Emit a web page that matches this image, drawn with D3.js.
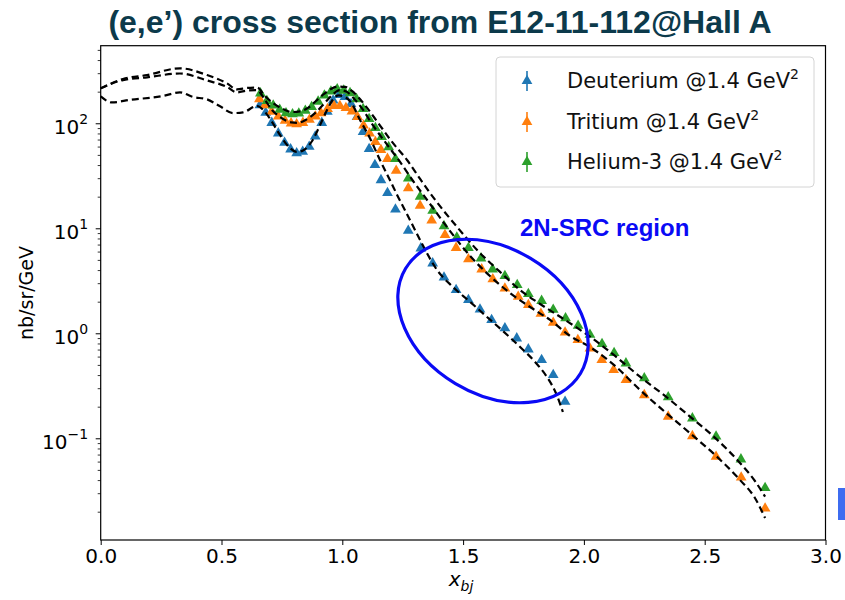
<!DOCTYPE html>
<html>
<head>
<meta charset="utf-8">
<script src="https://cdn.jsdelivr.net/npm/d3@7"></script>
<style>
  html, body { margin: 0; padding: 0; background: #fff; }
  svg { display: block; }
</style>
</head>
<body>
<svg id="chart" width="845" height="600"></svg>
<script>
// Inclusive (e,e') cross sections, E12-11-112 in Hall A, Q^2 = 1.4 GeV^2

// Deuterium data
const deutX = [0.659, 0.683, 0.708, 0.735, 0.761, 0.786, 0.811, 0.836, 0.863, 0.888, 0.915, 0.938,
  0.962, 0.986, 1.011, 1.036, 1.061, 1.086, 1.111, 1.135, 1.160, 1.187, 1.220, 1.273, 1.325, 1.374,
  1.421, 1.471, 1.522, 1.570, 1.618, 1.673, 1.722, 1.770, 1.825, 1.873, 1.922];
const deutY = [149, 126, 101, 80.3, 65.3, 56.5, 51.8, 53.7, 59.8, 74.8, 101, 129,
  165, 186, 178, 153, 115, 82.6, 56.9, 40.1, 28.8, 21.7, 15.1, 9.48, 6.45, 4.64,
  3.41, 2.59, 2.08, 1.69, 1.34, 1.12, 0.896, 0.704, 0.557, 0.401, 0.223];

// Tritium data
const tritX = [0.657, 0.680, 0.708, 0.735, 0.763, 0.788, 0.811, 0.837, 0.864, 0.889, 0.912, 0.939,
  0.966, 0.990, 1.015, 1.040, 1.063, 1.088, 1.113, 1.137, 1.160, 1.187, 1.223, 1.273, 1.322, 1.370,
  1.425, 1.471, 1.522, 1.577, 1.623, 1.673, 1.728, 1.770, 1.822, 1.873, 1.922, 1.975, 2.025, 2.074,
  2.123, 2.174, 2.250, 2.349, 2.449, 2.547, 2.651, 2.750];
const tritY = [170, 149, 129, 116, 106, 100, 98.0, 101, 108, 116, 125, 137,
  146, 146, 140, 130, 115, 95.3, 80.0, 66.4, 55.7, 45.9, 35.4, 24.1, 16.4, 11.9,
  8.63, 6.52, 5.07, 4.07, 3.27, 2.68, 2.23, 1.86, 1.54, 1.26, 1.02, 0.863, 0.719, 0.557,
  0.447, 0.359, 0.258, 0.161, 0.105, 0.0668, 0.0424, 0.0215];

// Helium-3 data
const he3X = [0.661, 0.688, 0.714, 0.741, 0.767, 0.794, 0.820, 0.847, 0.873, 0.900, 0.926, 0.953,
  0.979, 1.006, 1.032, 1.059, 1.086, 1.111, 1.137, 1.163, 1.192, 1.220, 1.273, 1.322, 1.374,
  1.421, 1.474, 1.522, 1.574, 1.622, 1.673, 1.724, 1.770, 1.825, 1.873, 1.924, 1.976, 2.025,
  2.075, 2.125, 2.174, 2.250, 2.349, 2.449, 2.547, 2.650, 2.750];
const he3Y = [193, 163, 148, 135, 125, 122, 124, 132, 143, 161, 184, 201,
  211, 205, 194, 170, 137, 110, 90.2, 74.1, 59.4, 45.7, 29.9, 20.0, 14.7,
  10.5, 8.17, 6.49, 5.18, 4.07, 3.52, 2.89, 2.37, 2.04, 1.68, 1.39, 1.18, 0.970,
  0.791, 0.649, 0.518, 0.373, 0.246, 0.155, 0.104, 0.0631, 0.0337];

// Model calculations (dashed curves)
const modelDX = [0, 0.046, 0.121, 0.258, 0.328, 0.382, 0.440, 0.494, 0.548, 0.589, 0.647, 0.684,
  0.709, 0.742, 0.783, 0.812, 0.841, 0.875, 0.908, 0.941, 0.966, 0.986, 1.011, 1.040, 1.073,
  1.114, 1.156, 1.197, 1.231, 1.280, 1.322, 1.392, 1.458, 1.529, 1.599, 1.665, 1.736, 1.798,
  1.847, 1.884, 1.913];
const modelDY = [180, 158, 167, 182, 197, 178, 169, 145, 125, 127, 146, 125,
  103, 77.4, 58.2, 53.3, 55.7, 67.8, 96.3, 140, 174, 184, 178, 153, 108,
  72.4, 44.7, 28.8, 19.9, 12.0, 7.74, 4.01, 2.76, 1.99, 1.43, 1.05, 0.741, 0.533,
  0.384, 0.270, 0.178];

const modelTX = [0, 0.092, 0.192, 0.328, 0.440, 0.523, 0.564, 0.606, 0.647, 0.680, 0.709, 0.742,
  0.788, 0.817, 0.850, 0.887, 0.924, 0.958, 0.990, 1.019, 1.053, 1.086, 1.123, 1.177, 1.239,
  1.293, 1.351, 1.433, 1.529, 1.611, 1.694, 1.777, 1.860, 1.943, 2.025, 2.129, 2.232, 2.336,
  2.439, 2.543, 2.646, 2.708, 2.750];
const modelTY = [215, 258, 274, 298, 256, 222, 197, 205, 207, 167, 134, 115,
  102, 101, 108, 125, 153, 186, 207, 199, 167, 134, 98.5, 66.4, 42.8,
  28.2, 18.6, 10.3, 5.45, 3.51, 2.42, 1.78, 1.34, 0.942, 0.741, 0.489, 0.289, 0.178,
  0.112, 0.0693, 0.0401, 0.0270, 0.0174];

const modelHX = [0, 0.092, 0.192, 0.328, 0.440, 0.523, 0.564, 0.606, 0.647, 0.680, 0.713, 0.746,
  0.792, 0.825, 0.858, 0.891, 0.924, 0.953, 0.982, 1.011, 1.040, 1.073, 1.106, 1.148, 1.206,
  1.268, 1.322, 1.375, 1.475, 1.558, 1.653, 1.736, 1.819, 1.922, 2.025, 2.129, 2.232, 2.336,
  2.439, 2.543, 2.646, 2.708, 2.750];
const modelHY = [215, 264, 288, 334, 288, 240, 210, 217, 219, 182, 156, 140,
  128, 130, 140, 163, 190, 212, 224, 222, 203, 170, 137, 101, 66.4,
  44.7, 29.5, 19.9, 10.3, 6.21, 3.84, 2.58, 1.90, 1.34, 0.929, 0.608, 0.386, 0.253,
  0.161, 0.101, 0.0582, 0.0392, 0.0278];

// Axis ticks and labels
const xTickValues = [0, 0.5, 1, 1.5, 2, 2.5, 3];
const xTickLabels = ["0.0", "0.5", "1.0", "1.5", "2.0", "2.5", "3.0"];
const yTickExponents = [-1, 0, 1, 2];
const seriesNames = ["Deuterium @1.4 GeV", "Tritium @1.4 GeV", "Helium-3 @1.4 GeV"];

// Styling
const seriesColors = ["#1f77b4", "#ff7f0e", "#2ca02c"];
const FONT = "'DejaVu Sans', sans-serif";
const box = { left: 100.7, right: 825.5, top: 45.7, bottom: 540 };

const svg = d3.select("#chart");

const x = d3.scaleLinear().domain([0, 3]).range([box.left, box.right]);
const y = d3.scaleLog().domain([0.01075, 548]).range([box.bottom, box.top]);

// Title
svg.append("text")
  .attr("x", 440).attr("y", 33)
  .attr("text-anchor", "middle")
  .attr("font-family", "'Liberation Sans', Arial, sans-serif")
  .attr("font-weight", "bold")
  .attr("font-size", 32)
  .attr("fill", "#0c3a4b")
  .text("(e,e\u2019) cross section from E12-11-112@Hall A");

// Axes
const xAxis = d3.axisBottom(x).tickValues(xTickValues)
  .tickFormat((d, i) => xTickLabels[i]).tickSize(5).tickPadding(5);
const gx = svg.append("g").attr("transform", `translate(0,${box.bottom})`).call(xAxis);
gx.select(".domain").remove();
gx.selectAll(".tick line").attr("stroke", "#000").attr("stroke-width", 1);
gx.selectAll(".tick text")
  .attr("font-family", FONT).attr("font-size", 20).attr("fill", "#000")
  .attr("dy", "0.71em").attr("y", 9);

const majorY = yTickExponents.map(e => Math.pow(10, e));
const minorY = [];
for (let e = -2; e <= 2; e++) {
  for (let m = 2; m <= 9; m++) {
    const v = m * Math.pow(10, e);
    if (v >= y.domain()[0] && v <= y.domain()[1]) minorY.push(v);
  }
}
const gyMinor = svg.append("g").attr("transform", `translate(${box.left},0)`)
  .call(d3.axisLeft(y).tickValues(minorY).tickFormat("").tickSize(3));
gyMinor.select(".domain").remove();
gyMinor.selectAll(".tick line").attr("stroke", "#000").attr("stroke-width", 0.8);

const gy = svg.append("g").attr("transform", `translate(${box.left},0)`)
  .call(d3.axisLeft(y).tickValues(majorY).tickFormat("").tickSize(5));
gy.select(".domain").remove();
gy.selectAll(".tick line").attr("stroke", "#000").attr("stroke-width", 1);
gy.selectAll(".tick").each(function(d) {
  const exp = Math.round(Math.log10(d));
  const t = d3.select(this).select("text")
    .attr("x", -12.5).attr("y", 10.5).attr("dy", null)
    .attr("text-anchor", "end")
    .attr("font-family", FONT).attr("fill", "#000");
  t.text(null);
  t.append("tspan").attr("font-size", 20).text("10");
  t.append("tspan").attr("font-size", 14).attr("dy", -10)
    .text(exp < 0 ? "\u2212" + Math.abs(exp) : String(exp));
});

// Frame
svg.append("rect")
  .attr("x", box.left).attr("y", box.top)
  .attr("width", box.right - box.left).attr("height", box.bottom - box.top)
  .attr("fill", "none").attr("stroke", "#000").attr("stroke-width", 1.2);

// Axis labels
svg.append("text")
  .attr("transform", `translate(33,293) rotate(-90)`)
  .attr("text-anchor", "middle")
  .attr("font-family", FONT).attr("font-size", 19).attr("fill", "#000")
  .text("nb/sr/GeV");

const xl = svg.append("text")
  .attr("x", 461).attr("y", 586)
  .attr("text-anchor", "middle")
  .attr("font-family", FONT).attr("font-style", "italic").attr("fill", "#000");
xl.append("tspan").attr("font-size", 20).text("x");
xl.append("tspan").attr("font-size", 14).attr("dy", 5).text("bj");

// Data markers
const tri = d3.symbol(d3.symbolTriangle, 50);
const series = [
  { xs: deutX, ys: deutY, color: seriesColors[0] },
  { xs: tritX, ys: tritY, color: seriesColors[1] },
  { xs: he3X, ys: he3Y, color: seriesColors[2] }
];
series.forEach(s => {
  svg.append("g").selectAll("path")
    .data(s.xs.map((v, i) => [v, s.ys[i]]))
    .join("path")
    .attr("d", tri)
    .attr("transform", d => `translate(${x(d[0])},${y(d[1])})`)
    .attr("fill", s.color);
});

// Model curves
const line = d3.line().x(d => x(d[0])).y(d => y(d[1])).curve(d3.curveMonotoneX);
[[modelDX, modelDY], [modelTX, modelTY], [modelHX, modelHY]].forEach(([xs, ys]) => {
  svg.append("path")
    .attr("d", line(xs.map((v, i) => [v, ys[i]])))
    .attr("fill", "none").attr("stroke", "#000")
    .attr("stroke-width", 2.2).attr("stroke-dasharray", "7,4");
});

// Legend
svg.append("rect")
  .attr("x", 496).attr("y", 57).attr("width", 318).attr("height", 130)
  .attr("rx", 4).attr("fill", "#fff").attr("fill-opacity", 0.8)
  .attr("stroke", "#d4d4d4").attr("stroke-width", 1);
const legendRows = [81, 122, 162];
seriesNames.forEach((name, i) => {
  const cy = legendRows[i];
  svg.append("line")
    .attr("x1", 527).attr("x2", 527).attr("y1", cy - 10).attr("y2", cy + 10)
    .attr("stroke", seriesColors[i]).attr("stroke-width", 1.6);
  svg.append("path").attr("d", tri)
    .attr("transform", `translate(527,${cy})`).attr("fill", seriesColors[i]);
  const t = svg.append("text")
    .attr("x", 567).attr("y", cy + 7)
    .attr("font-family", FONT).attr("fill", "#111");
  t.append("tspan").attr("font-size", 21).text(name);
  t.append("tspan").attr("font-size", 14).attr("dy", -9).text("2");
});

// 2N-SRC annotation
svg.append("ellipse")
  .attr("cx", 0).attr("cy", 0).attr("rx", 102).attr("ry", 73)
  .attr("transform", "translate(493,321) rotate(31)")
  .attr("fill", "none").attr("stroke", "#0a0af5").attr("stroke-width", 3.2);
svg.append("text")
  .attr("x", 520).attr("y", 236)
  .attr("font-family", "'Liberation Sans', Arial, sans-serif")
  .attr("font-weight", "bold").attr("font-size", 24)
  .attr("fill", "#0a0af5")
  .text("2N-SRC region");

// Edge marker at right border
svg.append("rect")
  .attr("x", 838).attr("y", 488).attr("width", 7).attr("height", 32)
  .attr("fill", "#3e6cf0");
</script>
</body>
</html>
